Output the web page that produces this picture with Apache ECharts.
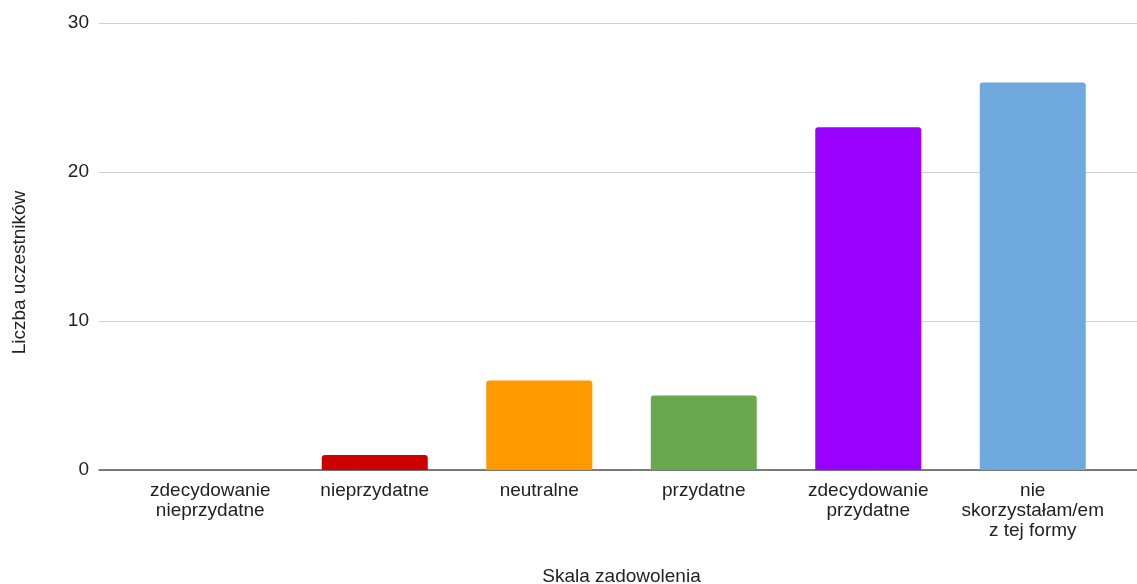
<!DOCTYPE html>
<html>
<head>
<meta charset="utf-8">
<script src="https://cdn.jsdelivr.net/npm/echarts@6/dist/echarts.min.js"></script>
<style>
  html, body { margin: 0; padding: 0; background: #fff; }
  #chart { width: 1137px; height: 584px; }
</style>
</head>
<body>
<div id="chart"></div>
<script>
// Survey answers: how useful the form of support was
const categories = [
  'zdecydowanie\nnieprzydatne',
  'nieprzydatne',
  'neutralne',
  'przydatne',
  'zdecydowanie\nprzydatne',
  'nie\nskorzystałam/em\nz tej formy'
];
const counts = [0, 1, 6, 5, 23, 26];
const barColors = ['#3366cc', '#cc0000', '#ff9900', '#6aa84f', '#9900ff', '#6fa8dc'];
const yTicks = { min: 0, max: 30, interval: 10 };

const FONT = '"Liberation Sans", Arial, Helvetica, sans-serif';
const TEXT = '#222';

const chart = echarts.init(document.getElementById('chart'), null, { renderer: 'canvas' });

const plotTop = 23;
const plotBottom = 114;

chart.setOption({
  animation: false,
  backgroundColor: '#fff',
  textStyle: { fontFamily: FONT },
  grid: [
    // full-width frame: gridlines, baseline, value labels
    { left: 99, right: 0, top: plotTop, bottom: plotBottom, containLabel: false, outerBoundsMode: 'none' },
    // inner area where the bars sit
    { left: 128, right: 22, top: plotTop, bottom: plotBottom, containLabel: false, outerBoundsMode: 'none' }
  ],
  xAxis: [
    {
      gridIndex: 0, type: 'value', min: 0, max: 1,
      axisLine: { show: true, lineStyle: { color: '#555', width: 1.5 } },
      axisTick: { show: false }, axisLabel: { show: false }, splitLine: { show: false }
    },
    {
      gridIndex: 1, type: 'category', data: categories,
      axisLine: { show: false }, axisTick: { show: false },
      axisLabel: {
        interval: 0, margin: 11, color: TEXT, fontSize: 19, lineHeight: 20,
        fontFamily: FONT, align: 'center'
      },
      name: 'Skala zadowolenia', nameLocation: 'middle', nameGap: 97,
      nameTextStyle: { color: TEXT, fontSize: 19, fontFamily: FONT }
    }
  ],
  yAxis: [
    {
      gridIndex: 0, type: 'value', min: yTicks.min, max: yTicks.max, interval: yTicks.interval,
      axisLine: { show: false }, axisTick: { show: false },
      axisLabel: { margin: 10, color: TEXT, fontSize: 19, fontFamily: FONT },
      splitLine: { show: true, lineStyle: { color: '#d0d0d0', width: 1 } },
      name: 'Liczba uczestników', nameLocation: 'middle', nameGap: 70,
      nameTextStyle: { color: TEXT, fontSize: 19, fontFamily: FONT, padding: [0, 52, 0, 0] }
    },
    {
      gridIndex: 1, type: 'value', min: yTicks.min, max: yTicks.max, interval: yTicks.interval,
      show: false
    }
  ],
  series: [
    {
      type: 'bar',
      xAxisIndex: 1, yAxisIndex: 1,
      barWidth: 106,
      data: counts.map((v, i) => ({
        value: v,
        itemStyle: { color: barColors[i], borderRadius: [3, 3, 0, 0] }
      }))
    }
  ]
});
</script>
</body>
</html>
